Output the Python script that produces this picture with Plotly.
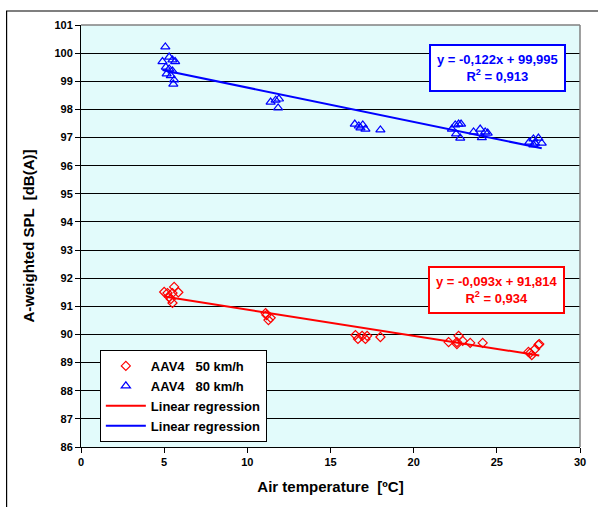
import plotly.graph_objects as go

# ---- data ----
x50 = [5.0, 5.2, 5.6, 5.85, 5.5, 5.4, 5.5, 5.3,
       11.15, 11.4, 11.27, 11.1,
       16.5, 16.65, 16.9, 17.2, 17.1, 18.0,
       22.1, 22.6, 22.7, 22.95, 22.6, 23.4, 24.15,
       26.9, 27.1, 27.3, 27.5, 27.55, 27.0]
y50 = [91.51, 91.47, 91.69, 91.5, 91.47, 91.26, 91.12, 91.33,
       90.69, 90.59, 90.51, 90.76,
       89.98, 89.84, 89.95, 89.95, 89.84, 89.91,
       89.73, 89.73, 89.95, 89.77, 89.66, 89.7, 89.7,
       89.38, 89.27, 89.48, 89.63, 89.66, 89.34]

x80 = [5.07, 4.9, 5.3, 5.5, 5.66, 5.1, 5.3, 5.5, 5.15, 5.4, 5.6, 5.55,
       11.4, 11.7, 11.9, 11.85,
       16.46, 16.7, 16.94, 17.1, 16.8, 18.0,
       22.5, 22.7, 22.85, 22.3, 22.55, 22.8, 23.6, 24.0, 24.3, 24.45, 24.1,
       26.95, 27.2, 27.5, 27.7, 27.2, 27.3]
y80 = [100.22, 99.7, 99.86, 99.76, 99.7, 99.5, 99.44, 99.37, 99.26, 99.2, 99.05, 98.9,
       98.26, 98.33, 98.37, 98.05,
       97.48, 97.41, 97.45, 97.3, 97.34, 97.27,
       97.45, 97.48, 97.48, 97.3, 97.13, 96.98, 97.2, 97.3, 97.2, 97.16, 97.0,
       96.84, 96.95, 96.98, 96.8, 96.74, 96.8]

slope50, icpt50, r2_50 = -0.093, 91.814, 0.934
slope80, icpt80, r2_80 = -0.122, 99.995, 0.913

x_ticks = [0, 5, 10, 15, 20, 25, 30]
y_ticks = list(range(86, 102))

series_names = ["AAV4\u00a0\u00a0\u00a050 km/h", "AAV4\u00a0\u00a0\u00a080 km/h",
                "Linear regression", "Linear regression"]

FONT = "Liberation Sans, Arial, sans-serif"

fig = go.Figure()

fig.add_trace(go.Scatter(x=x50, y=y50, mode="markers", name=series_names[0],
                         marker=dict(symbol="diamond-open", size=7, color="red",
                                     line=dict(width=1.2, color="red"))))
fig.add_trace(go.Scatter(x=x80, y=y80, mode="markers", name=series_names[1],
                         marker=dict(symbol="triangle-up-open", size=8, color="blue",
                                     line=dict(width=1.2, color="blue"))))

lx50 = [min(x50), max(x50)]
lx80 = [min(x80), max(x80)]
fig.add_trace(go.Scatter(x=lx50, y=[slope50 * v + icpt50 for v in lx50], mode="lines",
                         name=series_names[2], line=dict(color="red", width=2)))
fig.add_trace(go.Scatter(x=lx80, y=[slope80 * v + icpt80 for v in lx80], mode="lines",
                         name=series_names[3], line=dict(color="blue", width=2)))


def fmt(v, nd):
    return f"{v:.{nd}f}".replace(".", ",")


fig.add_annotation(x=25.04, y=99.47, xref="x", yref="y", showarrow=False,
                   text=f"y = {fmt(slope80,3)}x + {fmt(icpt80,3)}<br>R<sup>2</sup> = {fmt(r2_80,3)}",
                   font=dict(family=FONT, size=13, color="blue", weight="bold"),
                   bgcolor="white", bordercolor="blue", borderwidth=2, borderpad=6)
fig.add_annotation(x=24.98, y=91.58, xref="x", yref="y", showarrow=False,
                   text=f"y = {fmt(slope50,3)}x + {fmt(icpt50,3)}<br>R<sup>2</sup> = {fmt(r2_50,3)}",
                   font=dict(family=FONT, size=13, color="red", weight="bold"),
                   bgcolor="white", bordercolor="red", borderwidth=2, borderpad=6)

# outer chart frame (left/top visible)
fig.add_shape(type="rect", xref="paper", yref="paper",
              x0=(6 - 81) / 503, x1=1.1, y0=-0.3, y1=(447 - 11) / 422,
              line=dict(color="black", width=1.2), fillcolor="rgba(0,0,0,0)", layer="below")

fig.update_layout(
    width=598, height=507,
    margin=dict(l=81, r=14, t=25, b=60),
    paper_bgcolor="white",
    plot_bgcolor="#e2fbfb",
    font=dict(family=FONT, color="black"),
    showlegend=True,
    legend=dict(x=(100 - 81) / 503, y=(447 - 350) / 422, xanchor="left", yanchor="top",
                bgcolor="white", bordercolor="black", borderwidth=1,
                font=dict(family=FONT, size=13, color="black", weight="bold"),
                itemwidth=40, tracegroupgap=0),
    xaxis=dict(range=[0, 30], tickvals=x_ticks, ticks="outside", ticklen=5,
               tickcolor="black", showline=True, linecolor="black", linewidth=1,
               mirror=False, showgrid=False, zeroline=False,
               tickfont=dict(family=FONT, size=11, color="black", weight="bold"),
               title=dict(text="Air temperature  [ºC]", standoff=14,
                          font=dict(family=FONT, size=15, color="black", weight="bold"))),
    yaxis=dict(range=[86, 101], tickvals=y_ticks, ticks="outside", ticklen=5,
               tickcolor="black", showline=True, linecolor="black", linewidth=1,
               showgrid=True, gridcolor="black", gridwidth=1, zeroline=False,
               tickfont=dict(family=FONT, size=11, color="black", weight="bold"),
               title=dict(text="A-weighted SPL  [dB(A)]", standoff=16,
                          font=dict(family=FONT, size=15, color="black", weight="bold"))),
)

# gray plot-area border on top/right
fig.add_shape(type="line", xref="paper", yref="paper", x0=0, x1=1, y0=1, y1=1,
              line=dict(color="#808080", width=1.5))
fig.add_shape(type="line", xref="paper", yref="paper", x0=1, x1=1, y0=0, y1=1,
              line=dict(color="#808080", width=1.5))

fig.write_html("out.html")
